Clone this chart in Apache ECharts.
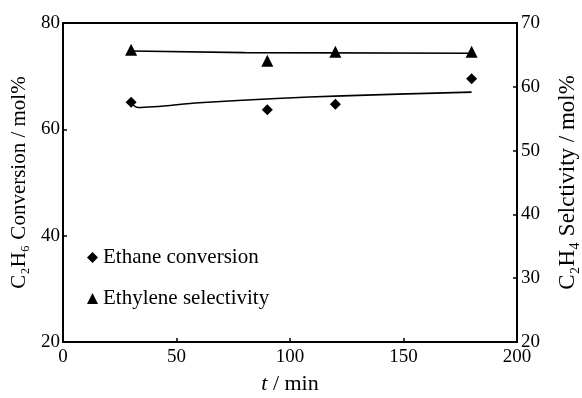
<!DOCTYPE html>
<html>
<head>
<meta charset="utf-8">
<script src="https://cdn.jsdelivr.net/npm/echarts@6/dist/echarts.min.js"></script>
<style>html,body{margin:0;padding:0;background:#fff;}#c{width:582px;height:398px;}</style>
</head>
<body>
<div id="c"></div>
<script>
// Data
const times = [30, 90, 120, 180];
const ethaneConversion = [65.1, 63.7, 64.7, 69.5];
const ethyleneSelectivity = [65.8, 64.1, 65.5, 65.5];
const convFitT = [30, 33, 60, 94, 123, 180];
const convFitV = [64.9, 64.1, 65.0, 65.8, 66.3, 67.0];
const selFitT = [30, 80, 180];
const selFitV = [65.6, 65.35, 65.25];
const xTicks = [0, 50, 100, 150, 200];
const leftTicks = [20, 40, 60, 80];
const rightTicks = [20, 30, 40, 50, 60, 70];
const legendNames = ['Ethane conversion', 'Ethylene selectivity'];

const FONT = '"Liberation Serif", "Times New Roman", serif';
const zip = (a, b) => a.map((v, i) => [v, b[i]]);

const chart = echarts.init(document.getElementById('c'), null, {renderer: 'canvas'});
chart.setOption({
  animation: false,
  backgroundColor: '#fff',
  grid: {left: 63, right: 65, top: 23, bottom: 56, show: true, borderColor: '#000', borderWidth: 2, backgroundColor: 'transparent', containLabel: false, outerBoundsMode: 'none'},
  legend: {
    data: legendNames,
    orient: 'vertical',
    left: 82, top: 242,
    itemWidth: 11, itemHeight: 11, itemGap: 20,
    itemStyle: {color: '#000', opacity: 1},
    textStyle: {fontFamily: FONT, fontSize: 21, color: '#000', padding: [0,0,0,0]},
    inactiveColor: '#000'
  },
  xAxis: {
    type: 'value', min: xTicks[0], max: xTicks[xTicks.length-1], interval: 50,
    name: '{i|t} / min', nameLocation: 'middle', nameGap: 31,
    nameTextStyle: {fontFamily: FONT, fontSize: 22, color: '#000', rich: {i: {fontFamily: FONT, fontSize: 22, fontStyle: 'italic', color: '#000'}}},
    axisLine: {lineStyle: {color: '#000', width: 2}},
    axisTick: {inside: true, length: 4, lineStyle: {color: '#000', width: 1.5}},
    axisLabel: {fontFamily: FONT, fontSize: 19, color: '#000', margin: 6},
    splitLine: {show: false}
  },
  yAxis: [{
    type: 'value', min: leftTicks[0], max: leftTicks[leftTicks.length-1], interval: 20, position: 'left',
    name: 'C₂H₆ Conversion / mol%', nameLocation: 'middle', nameGap: 30, nameRotate: 90,
    nameTextStyle: {fontFamily: FONT, fontSize: 21, color: '#000'},
    axisLine: {show: true, lineStyle: {color: '#000', width: 2}},
    axisTick: {show: true, inside: true, length: 4, lineStyle: {color: '#000', width: 1.5}},
    axisLabel: {fontFamily: FONT, fontSize: 19, color: '#000', margin: 3},
    splitLine: {show: false}
  }, {
    type: 'value', min: rightTicks[0], max: rightTicks[rightTicks.length-1], interval: 10, position: 'right',
    name: 'C₂H₄ Selctivity / mol%', nameLocation: 'middle', nameGap: 39, nameRotate: 90,
    nameTextStyle: {fontFamily: FONT, fontSize: 23, color: '#000'},
    axisLine: {show: true, lineStyle: {color: '#000', width: 2}},
    axisTick: {show: true, inside: true, length: 4, lineStyle: {color: '#000', width: 1.5}},
    axisLabel: {fontFamily: FONT, fontSize: 19, color: '#000', margin: 4},
    splitLine: {show: false}
  }],
  series: [{
    name: legendNames[0], type: 'scatter', yAxisIndex: 0,
    symbol: 'diamond', symbolSize: 11, itemStyle: {color: '#000', opacity: 1},
    data: zip(times, ethaneConversion), z: 5
  }, {
    name: legendNames[1], type: 'scatter', yAxisIndex: 1,
    symbol: 'triangle', symbolSize: 12, itemStyle: {color: '#000', opacity: 1},
    data: zip(times, ethyleneSelectivity), z: 5
  }, {
    name: 'convFit', type: 'line', yAxisIndex: 0, showSymbol: false, symbol: 'none',
    lineStyle: {color: '#000', width: 1.6}, data: zip(convFitT, convFitV), smooth: 0.3
  }, {
    name: 'selFit', type: 'line', yAxisIndex: 1, showSymbol: false, symbol: 'none',
    lineStyle: {color: '#000', width: 1.6}, data: zip(selFitT, selFitV)
  }]
});
</script>
</body>
</html>
